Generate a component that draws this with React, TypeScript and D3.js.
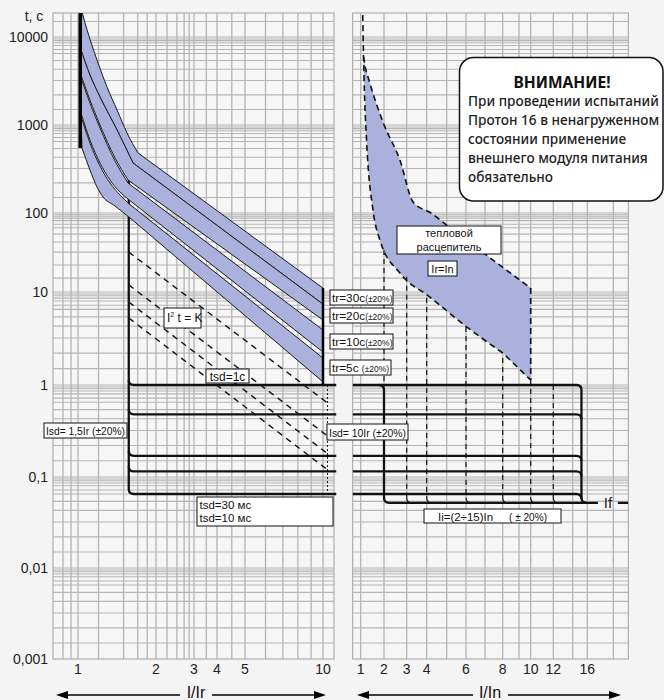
import React from 'react';
import * as d3 from 'd3';

// ---------- axis ticks ----------
const yTicks = [10000, 1000, 100, 10, 1, 0.1, 0.01, 0.001];
const yTickLabels = ['10000', '1000', '100', '10', '1', '0,1', '0,01', '0,001'];
const yGridMultipliers = [1, 1.5, 2.2, 3.2, 4.3, 5.4, 6.5, 7.2, 8, 8.6, 9.1, 9.5];
const xTicksLeft = [1, 2, 3, 4, 5, 10];
const xGridLeft = [0.875, 0.94, 1, 1.2, 1.5, 1.7, 1.85, 2, 2.25, 2.5, 2.7, 2.85, 3, 3.5, 4, 4.5, 5, 6, 7, 8, 9, 10];
const xTicksRight = [1, 2, 3, 4, 6, 8, 10, 12, 16];
const xGridRight = [1, 2, 3, 4, 5, 6, 7, 8, 9, 10, 12, 14, 16, 20];

// ---------- calibration of the drawn (hand-made) grid ----------
const yDecadeExp = [-3, -2, -1, 0, 1, 2, 3, 4];
const yDecadePos = [659, 568, 477, 385, 292, 213, 125, 37];
const xLeftCalib = [1, 2, 3, 4, 5, 10];
const xLeftPos = [78, 156, 194, 217, 245, 323];
const xRightPos = [360.7, 384, 406.7, 426.7, 446.7, 466, 485, 502.7, 519, 530.7, 553.3, 572.7, 587.3, 613.3];

// ---------- left panel: long-time bands  [I/Ir, t] ----------
const tr30Upper = [[1.036, 19200], [1.093, 11100], [1.184, 5480], [1.294, 2700], [1.415, 1480], [1.546, 811], [1.705, 481], [10, 11.2]];
const tr30Lower = [[1.018, 7700], [1.112, 3700], [1.216, 2080], [1.415, 877], [1.631, 370], [10, 7.4]];
const tr20Lower = [[1.018, 4000], [1.112, 1920], [1.216, 1000], [1.39, 422], [1.56, 237], [10, 5.0]];
const tr10Upper = [[1.018, 3700], [1.112, 1780], [1.216, 925], [1.39, 390], [1.56, 219], [10, 3.9]];
const tr10Lower = [[1.027, 1370], [1.112, 675], [1.216, 370], [1.329, 237], [1.453, 173], [1.56, 144], [10, 2.26]];
const tr5Upper = [[1.027, 1265], [1.112, 625], [1.216, 342], [1.329, 219], [1.453, 160], [1.56, 130], [10, 1.95]];
const tr5Lower = [[1.036, 548], [1.112, 308], [1.184, 197], [1.249, 152], [1.39, 120], [1.588, 86.5], [10, 1.08]];
const trLabels = ['tr=30c', 'tr=20c', 'tr=10c', 'tr=5c '];

const startLineI = 1.02;
const startLineT = [19200, 548];
const endLineI = 10;
const endLineT = [11.2, 1];

// short-time
const isdI = 1.57;
const isdTopT = 237;
const tsdLevels = [1, 0.48, 0.17, 0.115, 0.065];
const leftLineEndI = 11.25;
const isd10I = 10.4;
const i2tLines = [
  [[1.57, 32], [10.4, 0.64]],
  [[1.57, 12.3], [10.4, 0.28]],
  [[1.57, 7.8], [10.4, 0.18]],
  [[1.57, 5.25], [10.4, 0.12]],
];

// ---------- right panel [I/In, t] ----------
const thermalUpper = [[1.12, 6000], [1.18, 4800], [1.38, 3080], [1.97, 1054], [2.7, 400], [3.32, 133], [4.21, 100], [4.92, 72.6], [7.45, 25.4], [10, 11.2]];
const thermalLower = [[1.086, 17800], [1.142, 3500], [1.258, 625], [1.528, 108], [1.828, 45], [2.7, 17.4], [4.165, 8.8], [6.05, 4.2], [8.02, 2.2], [10, 1.13]];
const iiMin = 2;
const iiMinStartT = 34;
const iiMax = 15.2;
const ifLevel = 0.052;
const iiDashed = [3, 4, 6, 8, 10, 12];
const iiDashedStartT = [15.6, 8.6, 4.2, 1.95, 1.13, 1.0];
const ifLineEnd = 17.65;
const ifLineRestart = 20.7;
const ifLineRight = 22.3;

const warnTitle = 'ВНИМАНИЕ!';
const warnLines = ['При проведении испытаний', 'Протон 16 в ненагруженном', 'состоянии применение', 'внешнего модуля питания', 'обязательно'];

const FONT = "'Liberation Sans', Arial, sans-serif";
const BAND = '#a9b1dc';
const GRID = '#b4b4b4';

export default function App() {
  const W = 664, H = 700;
  const top = 13, bottom = 659;
  const L = { x0: 53, x1: 334 };
  const R = { x0: 352.7, x1: 628.3 };
  const r = 5;

  const yLin = d3.scaleLinear().domain(yDecadeExp).range(yDecadePos);
  const y = (t: number) => yLin(Math.log10(t));
  const xLLin = d3.scaleLinear().domain(xLeftCalib.map(Math.log10)).range(xLeftPos);
  const xL = (v: number) => xLLin(Math.log10(v));
  const xR = d3.scaleLinear().domain(xGridRight).range(xRightPos);

  const mono = (xs: (v: number) => number) =>
    d3.line<number[]>().x(d => xs(d[0])).y(d => y(d[1])).curve(d3.curveMonotoneX);
  const curveFwd = (pts: number[][], xs: (v: number) => number) => {
    const head = pts.slice(0, -1);
    const t = pts[pts.length - 1];
    return mono(xs)(head) + `L${xs(t[0])},${y(t[1])}`;
  };
  const curveRev = (pts: number[][], xs: (v: number) => number) => {
    const t = pts[pts.length - 1];
    const head = pts.slice(0, -1).reverse();
    return `L${xs(t[0])},${y(t[1])}` + (mono(xs)(head) as string).replace(/^M/, 'L');
  };

  // grid lines
  const hGrid: number[] = [];
  for (let e = -3; e <= 4; e++) {
    for (const m of yGridMultipliers) {
      const py = y(m * Math.pow(10, e));
      if (py > top + 0.5 && py < bottom - 0.5) hGrid.push(py);
    }
  }

  const bands = [
    [tr30Upper, tr30Lower],
    [tr30Lower, tr20Lower],
    [tr10Upper, tr10Lower],
    [tr5Upper, tr5Lower],
  ];

  const xs = xL(isdI);
  const yLast = y(tsdLevels[tsdLevels.length - 1]);
  const xr2 = xR(iiMin);
  const xrMax = xR(iiMax);
  const yb = y(ifLevel);
  const y1 = y(1);

  const thermalFill = curveFwd(thermalUpper, xR) + curveRev(thermalLower.slice(1), xR) + 'Z';

  const box = (x: number, yy: number, w: number, h: number, key: string) => (
    <rect key={key} x={x} y={yy} width={w} height={h} fill="#fff" stroke="#111" strokeWidth={1} />
  );

  return (
    <svg width={W} height={H} style={{ position: 'absolute', left: 0, top: 0, background: '#f4f4f4' }} fontFamily={FONT}>
      <defs>
        <clipPath id="clipL"><rect x={L.x0} y={top} width={L.x1 - L.x0 + 6} height={bottom - top} /></clipPath>
        <clipPath id="clipR"><rect x={R.x0} y={top} width={R.x1 - R.x0} height={bottom - top} /></clipPath>
      </defs>
      <rect x={0} y={0} width={W} height={H} fill="#f4f4f4" />

      {/* ---------- grids ---------- */}
      {[L, R].map((p, i) => (
        <g key={'grid' + i}>
          <rect x={p.x0} y={top} width={p.x1 - p.x0} height={bottom - top} fill="#f6f6f6" stroke="#a0a0a0" strokeWidth={1} />
          {hGrid.map((py, j) => (
            <line key={j} x1={p.x0} x2={p.x1} y1={py} y2={py} stroke={GRID} strokeWidth={1.1} />
          ))}
          {(i === 0 ? xGridLeft.map(xL) : xGridRight.map(v => xR(v))).map((px, j) => (
            <line key={'v' + j} x1={px} x2={px} y1={top} y2={bottom} stroke={GRID} strokeWidth={1.3} />
          ))}
        </g>
      ))}

      {/* ---------- left panel curves ---------- */}
      <g clipPath="url(#clipL)">
        <path d={`M${xs},${y(isdTopT)}L${xs},${yLast - r}`} stroke="#111" strokeWidth={2.3} fill="none" />
        {bands.map(([u, l], i) => (
          <path key={'b' + i} d={curveFwd(u, xL) + curveRev(l, xL) + 'Z'} fill={BAND} stroke="#1a1a1a" strokeWidth={1} strokeLinejoin="round" />
        ))}
        {i2tLines.map((seg, i) => (
          <line key={'k' + i} x1={xL(seg[0][0])} y1={y(seg[0][1])} x2={xL(seg[1][0])} y2={y(seg[1][1])}
            stroke="#111" strokeWidth={1.4} strokeDasharray="6 5" />
        ))}
        <line x1={xL(isd10I)} x2={xL(isd10I)} y1={y1} y2={yLast} stroke="#111" strokeWidth={1} strokeDasharray="2 2" />
        {tsdLevels.map((lv, i) => (
          <path key={'t' + i} d={`M${xs},${y(lv) - r}Q${xs},${y(lv)} ${xs + r},${y(lv)}L${xL(leftLineEndI)},${y(lv)}`}
            stroke="#111" strokeWidth={2.3} fill="none" />
        ))}
        <line x1={xL(startLineI)} x2={xL(startLineI)} y1={y(startLineT[0])} y2={y(startLineT[1])} stroke="#000" strokeWidth={3.5} />
        <line x1={xL(endLineI)} x2={xL(endLineI)} y1={y(endLineT[0])} y2={y(endLineT[1])} stroke="#000" strokeWidth={2.5} />
      </g>

      {/* ---------- right panel curves ---------- */}
      <g clipPath="url(#clipR)">
        <path d={thermalFill} fill={BAND} stroke="none" />
        <path d={curveFwd(thermalLower, xR)} fill="none" stroke="#111" strokeWidth={1.6} strokeDasharray="6 4" />
        <path d={curveFwd(thermalUpper, xR)} fill="none" stroke="#111" strokeWidth={1.6} strokeDasharray="6 4" />
        <line x1={xR(10)} x2={xR(10)} y1={y(thermalUpper[thermalUpper.length - 1][1])} y2={y(thermalLower[thermalLower.length - 1][1])}
          stroke="#111" strokeWidth={1.6} strokeDasharray="6 4" />
        <line x1={xr2} x2={xr2} y1={y(iiMinStartT)} y2={y1} stroke="#111" strokeWidth={1.2} strokeDasharray="5 4" />
        {iiDashed.map((v, i) => (
          <g key={'ii' + i}>
            <line x1={xR(v)} x2={xR(v)} y1={y(iiDashedStartT[i])} y2={yb - r} stroke="#111" strokeWidth={1.2} strokeDasharray="5 4" />
            <path d={`M${xR(v)},${yb - r}Q${xR(v)},${yb} ${xR(v) + r},${yb}`} fill="none" stroke="#111" strokeWidth={1.2} />
          </g>
        ))}
        {tsdLevels.map((lv, i) => (
          <path key={'h' + i} d={`M${R.x0},${y(lv)}L${xrMax - r},${y(lv)}Q${xrMax},${y(lv)} ${xrMax},${y(lv) + r}`}
            stroke="#111" strokeWidth={2.3} fill="none" />
        ))}
        <path d={`M${xrMax},${y1 + r}L${xrMax},${yb - r}Q${xrMax},${yb} ${xrMax + r},${yb}`} stroke="#111" strokeWidth={2.3} fill="none" />
        <path d={`M${xr2 - r},${y1}Q${xr2},${y1} ${xr2},${y1 + r}L${xr2},${yb - r}Q${xr2},${yb} ${xr2 + r},${yb}L${xR(ifLineEnd)},${yb}`}
          stroke="#111" strokeWidth={2.3} fill="none" />
        <line x1={xR(ifLineRestart)} x2={xR(ifLineRight)} y1={yb} y2={yb} stroke="#111" strokeWidth={2.3} />
      </g>
      <text x={(xR(ifLineEnd) + xR(ifLineRestart)) / 2} y={yb + 5.5} fontSize={15} textAnchor="middle" fill="#222">If</text>

      {/* ---------- axes ---------- */}
      <text x={34} y={21} fontSize={14} textAnchor="middle" fill="#222">t, c</text>
      {yTicks.map((t, i) => (
        <text key={'yt' + i} x={48} y={y(t) + 5} fontSize={14} textAnchor="end" fill="#222">{yTickLabels[i]}</text>
      ))}
      {xTicksLeft.map((v, i) => (
        <text key={'xl' + i} x={xL(v)} y={673.5} fontSize={14} textAnchor="middle" fill="#222">{v}</text>
      ))}
      {xTicksRight.map((v, i) => (
        <text key={'xr' + i} x={xR(v)} y={673.5} fontSize={14} textAnchor="middle" fill="#222">{v}</text>
      ))}

      {/* bottom arrows */}
      <g stroke="#000" strokeWidth={1.6}>
        <line x1={62} x2={180} y1={695} y2={695} />
        <line x1={212} x2={320} y1={695} y2={695} />
        <line x1={363} x2={473} y1={695} y2={695} />
        <line x1={508} x2={615} y1={695} y2={695} />
      </g>
      <g fill="#000">
        <path d="M56,695L68,691L68,699Z" />
        <path d="M326,695L314,691L314,699Z" />
        <path d="M357,695L369,691L369,699Z" />
        <path d="M621,695L609,691L609,699Z" />
      </g>
      <text x={196} y={698} fontSize={16} textAnchor="middle" fill="#111">I/Ir</text>
      <text x={490} y={698} fontSize={16} textAnchor="middle" fill="#111">I/In</text>

      {/* ---------- labels ---------- */}
      {[290, 308, 334, 360].map((by, i) => (
        <g key={'tr' + i}>
          {box(330, by, i === 3 ? 61 : 63, 15, 'trb' + i)}
          <text x={332} y={by + 11.5} fontSize={11.8} fill="#111">
            {trLabels[i]}<tspan fontSize={8.5}>(±20%)</tspan>
          </text>
        </g>
      ))}
      {box(164, 308, 37, 20, 'i2tb')}
      <text x={167} y={322} fontSize={12} fill="#111">I<tspan dy={-5} fontSize={7}>2</tspan><tspan dy={5}> t = K</tspan></text>
      {box(206, 369, 43, 14, 'tsd1')}
      <text x={227.5} y={380.5} fontSize={12} textAnchor="middle" fill="#111">tsd=1c</text>
      {box(44, 423, 83, 15, 'isd15')}
      <text x={46} y={435} fontSize={11.5} fill="#111" textLength={79} lengthAdjust="spacingAndGlyphs">Isd= 1,5Ir (±20%)</text>
      {box(327, 424, 81, 16, 'isd10')}
      <text x={329} y={436.5} fontSize={11.5} fill="#111" textLength={77} lengthAdjust="spacingAndGlyphs">Isd= 10Ir (±20%)</text>
      {box(197, 497, 136, 29, 'tsd30')}
      <text x={199.5} y={508.5} fontSize={11.5} fill="#111">tsd=30 мс</text>
      <text x={199.5} y={522} fontSize={11.5} fill="#111">tsd=10 мс</text>

      {box(397, 226, 104, 28, 'therm')}
      <text x={449} y={237} fontSize={11} textAnchor="middle" fill="#111">тепловой</text>
      <text x={449} y={250.5} fontSize={11} textAnchor="middle" fill="#111">расцепитель</text>
      {box(428, 261, 29, 15, 'irin')}
      <text x={442.5} y={272.5} fontSize={11} textAnchor="middle" fill="#111">Ir=In</text>
      {box(424, 509, 137, 14, 'ii')}
      <text x={438} y={520.5} fontSize={11.5} fill="#111" textLength={55} lengthAdjust="spacingAndGlyphs">Ii=(2÷15)In</text>
      <text x={509} y={520.5} fontSize={11.5} fill="#111" textLength={38} lengthAdjust="spacingAndGlyphs">( ± 20%)</text>

      {/* warning */}
      <rect x={459.5} y={57.5} width={203.5} height={143.5} rx={14} ry={14} fill="#fff" stroke="#111" strokeWidth={1.5} />
      <text x={562} y={87.5} fontSize={15.5} fontWeight={700} textAnchor="middle" fill="#111" fontFamily="'Noto Sans', sans-serif">{warnTitle}</text>
      {warnLines.map((s, i) => (
        <text key={'w' + i} x={468} y={106 + i * 19} fontSize={13.6} fontWeight={500} fill="#222" fontFamily="'Noto Sans', sans-serif">{s}</text>
      ))}
    </svg>
  );
}
